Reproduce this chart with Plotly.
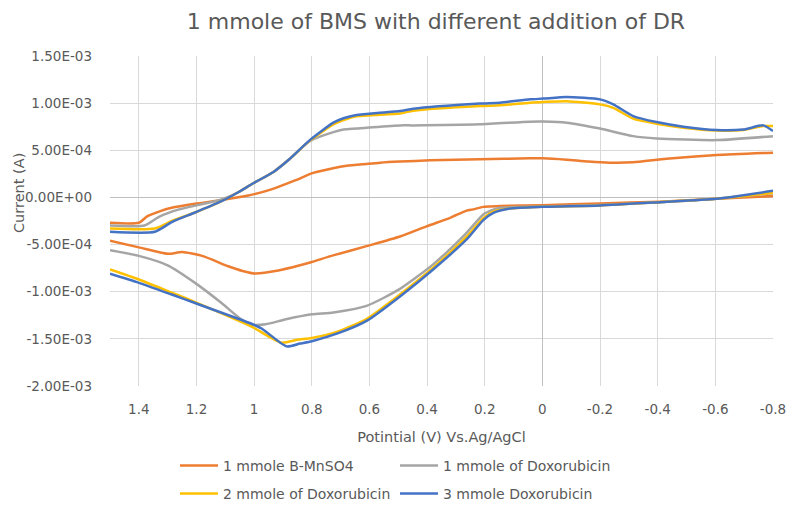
import plotly.graph_objects as go

# ---------------- data (potential in V, current in A) ----------------
series_names = ["1 mmole B-MnSO4", "1 mmole of Doxorubicin",
                "2 mmole of Doxorubicin", "3 mmole Doxorubicin"]
series_colors = ["#ED7D31", "#A5A5A5", "#FFC000", "#4472C4"]

# 1 mmole B-MnSO4
orange_up_v = [1.5, 1.40, 1.37, 1.33, 1.286, 1.205, 1.113, 1.02, 0.94, 0.858, 0.795, 0.726, 0.679,
               0.61, 0.563, 0.494, 0.39, 0.217, 0.043, -0.003, -0.084, -0.16, -0.234, -0.314,
               -0.43, -0.604, -0.8]
orange_up_i = [-2.69e-4, -2.69e-4, -1.98e-4, -1.50e-4, -1.10e-4, -6.7e-5, -2.8e-5, 2.0e-5, 8.5e-5,
               1.8e-4, 2.6e-4, 3.1e-4, 3.35e-4, 3.55e-4, 3.68e-4, 3.8e-4, 3.93e-4, 4.05e-4,
               4.15e-4, 4.15e-4, 4.0e-4, 3.8e-4, 3.68e-4, 3.72e-4, 4.1e-4, 4.5e-4, 4.75e-4]
orange_dn_v = [-0.8, -0.604, -0.408, -0.2, 0.0, 0.147, 0.18, 0.206, 0.24, 0.263, 0.32, 0.40, 0.494,
               0.61, 0.726, 0.80, 0.841, 0.916, 0.997, 1.04, 1.09, 1.18, 1.25, 1.30, 1.40, 1.5]
orange_dn_i = [1.4e-5, -1.4e-5, -4.5e-5, -6.4e-5, -8.2e-5, -9.0e-5, -9.5e-5, -1.0e-4, -1.27e-4,
               -1.4e-4, -2.16e-4, -3.05e-4, -4.15e-4, -5.17e-4, -6.15e-4, -6.85e-4, -7.2e-4,
               -7.75e-4, -8.07e-4, -7.8e-4, -7.3e-4, -6.2e-4, -5.8e-4, -5.98e-4, -5.3e-4, -4.6e-4]

# 1 mmole of Doxorubicin
gray_up_v = [1.5, 1.38, 1.33, 1.26, 1.17, 1.113, 1.055, 1.003, 0.933, 0.876, 0.806, 0.725, 0.69,
             0.645, 0.61, 0.494, 0.448, 0.217, 0.043, -0.003, -0.084, -0.2, -0.315, -0.396,
             -0.604, -0.8]
gray_up_i = [-2.97e-4, -2.97e-4, -2.05e-4, -1.27e-4, -6.4e-5, -2.1e-5, 5.5e-5, 1.5e-4, 2.7e-4,
             4.1e-4, 6.0e-4, 6.93e-4, 7.2e-4, 7.3e-4, 7.4e-4, 7.64e-4, 7.64e-4, 7.75e-4,
             8.03e-4, 8.04e-4, 7.93e-4, 7.3e-4, 6.5e-4, 6.26e-4, 6.08e-4, 6.5e-4]
gray_dn_v = [-0.8, -0.604, -0.408, -0.2, 0.0, 0.113, 0.147, 0.17, 0.205, 0.263, 0.379, 0.494, 0.61,
             0.725, 0.80, 0.893, 0.96, 1.009, 1.044, 1.113, 1.205, 1.30, 1.40, 1.5]
gray_dn_i = [4.5e-5, -1.4e-5, -5.0e-5, -8.0e-5, -9.5e-5, -1.05e-4, -1.1e-4, -1.3e-4, -1.8e-4,
             -3.75e-4, -7.1e-4, -9.7e-4, -1.15e-3, -1.22e-3, -1.24e-3, -1.295e-3, -1.345e-3,
             -1.35e-3, -1.295e-3, -1.12e-3, -9.06e-4, -7.2e-4, -6.2e-4, -5.6e-4]

# 2 mmole of Doxorubicin
yellow_up_v = [1.5, 1.345, 1.286, 1.205, 1.113, 1.055, 1.003, 0.933, 0.876, 0.806, 0.725, 0.69,
               0.645, 0.494, 0.448, 0.217, 0.147, 0.043, -0.003, -0.084, -0.2, -0.246, -0.315,
               -0.396, -0.489, -0.604, -0.697, -0.766, -0.8]
yellow_up_i = [-3.3e-4, -3.3e-4, -2.5e-4, -1.6e-4, -4.0e-5, 5.5e-5, 1.5e-4, 2.7e-4, 4.1e-4,
               6.05e-4, 7.75e-4, 8.2e-4, 8.6e-4, 8.9e-4, 9.2e-4, 9.7e-4, 9.77e-4, 1.005e-3,
               1.012e-3, 1.02e-3, 9.87e-4, 9.5e-4, 8.35e-4, 7.82e-4, 7.4e-4, 7.1e-4, 7.15e-4,
               7.57e-4, 7.57e-4]
yellow_dn_v = [-0.8, -0.604, -0.408, -0.2, 0.0, 0.113, 0.17, 0.205, 0.263, 0.379, 0.494, 0.61,
               0.708, 0.80, 0.85, 0.905, 1.009, 1.205, 1.286, 1.40, 1.5]
yellow_dn_i = [5.0e-5, -1.4e-5, -5.0e-5, -8.5e-5, -9.9e-5, -1.17e-4, -1.5e-4, -2.2e-4, -4.17e-4,
               -7.46e-4, -1.03e-3, -1.29e-3, -1.42e-3, -1.49e-3, -1.51e-3, -1.54e-3, -1.37e-3,
               -1.11e-3, -1.01e-3, -8.7e-4, -7.64e-4]

# 3 mmole Doxorubicin
blue_up_v = [1.5, 1.344, 1.286, 1.205, 1.113, 1.055, 1.003, 0.933, 0.876, 0.806, 0.725, 0.69,
             0.645, 0.61, 0.494, 0.448, 0.217, 0.147, 0.043, -0.003, -0.084, -0.2, -0.246,
             -0.315, -0.396, -0.489, -0.604, -0.697, -0.766, -0.8]
blue_up_i = [-3.64e-4, -3.64e-4, -2.62e-4, -1.6e-4, -4.0e-5, 5.5e-5, 1.5e-4, 2.7e-4, 4.1e-4,
             6.1e-4, 7.93e-4, 8.4e-4, 8.75e-4, 8.85e-4, 9.16e-4, 9.4e-4, 9.95e-4, 1.005e-3,
             1.04e-3, 1.048e-3, 1.065e-3, 1.04e-3, 9.87e-4, 8.63e-4, 7.99e-4, 7.5e-4, 7.14e-4,
             7.2e-4, 7.64e-4, 7.04e-4]
blue_dn_v = [-0.8, -0.604, -0.408, -0.2, 0.0, 0.113, 0.17, 0.205, 0.263, 0.379, 0.494, 0.61,
             0.708, 0.80, 0.841, 0.887, 0.974, 1.009, 1.205, 1.286, 1.40, 1.5]
blue_dn_i = [7.0e-5, -1.4e-5, -5.0e-5, -8.5e-5, -9.9e-5, -1.17e-4, -1.63e-4, -2.4e-4, -4.46e-4,
             -7.64e-4, -1.05e-3, -1.31e-3, -1.44e-3, -1.525e-3, -1.55e-3, -1.58e-3, -1.39e-3,
             -1.34e-3, -1.12e-3, -1.03e-3, -9.06e-4, -8.1e-4]

x_tick_vals = [1.4, 1.2, 1.0, 0.8, 0.6, 0.4, 0.2, 0.0, -0.2, -0.4, -0.6, -0.8]
x_tick_text = ["1.4", "1.2", "1", "0.8", "0.6", "0.4", "0.2", "0", "-0.2", "-0.4", "-0.6", "-0.8"]
y_tick_vals = [1.5e-3, 1.0e-3, 5.0e-4, 0.0, -5.0e-4, -1.0e-3, -1.5e-3, -2.0e-3]
y_tick_text = ["1.50E-03", "1.00E-03", "5.00E-04", "0.00E+00", "-5.00E-04", "-1.00E-03",
               "-1.50E-03", "-2.00E-03"]

title_text = "1 mmole of BMS with different addition of DR"
x_title = "Potintial (V) Vs.Ag/AgCl"
y_title = "Current (A)"

# ---------------- figure ----------------
FONT = "DejaVu Sans"
TXT = "#595959"
FS = 13.5      # tick labels
FS_LG = 14     # legend
FS_AX = 14.5   # axis titles

branches = [
    (orange_up_v, orange_up_i, orange_dn_v, orange_dn_i),
    (gray_up_v, gray_up_i, gray_dn_v, gray_dn_i),
    (yellow_up_v, yellow_up_i, yellow_dn_v, yellow_dn_i),
    (blue_up_v, blue_up_i, blue_dn_v, blue_dn_i),
]
legend_ids = ["legend", "legend", "legend2", "legend2"]

fig = go.Figure()
for name, color, (uv, ui, dv, di), lg in zip(series_names, series_colors, branches, legend_ids):
    fig.add_trace(go.Scatter(
        x=uv + [None] + dv,
        y=ui + [None] + di,
        mode="lines",
        name=name,
        line=dict(color=color, width=2.5, shape="spline", smoothing=0.6),
        connectgaps=False,
        legend=lg,
    ))

legend_common = dict(
    orientation="h", xanchor="left", yanchor="middle",
    xref="container", yref="container",
    font=dict(family=FONT, size=FS_LG, color=TXT),
    entrywidth=167, entrywidthmode="pixels",
    bgcolor="rgba(0,0,0,0)", itemwidth=38,
)

fig.update_layout(
    width=790, height=512,
    margin=dict(l=110, r=17, t=56, b=126, autoexpand=False),
    paper_bgcolor="white", plot_bgcolor="white",
    title=dict(text=title_text, x=0.4917, xref="paper", xanchor="center",
               y=1 - 21 / 512, yref="container", yanchor="middle",
               font=dict(family=FONT, size=22, color=TXT)),
    legend=dict(x=0.2215, y=1 - 466 / 512, **legend_common),
    legend2=dict(x=0.2215, y=1 - 494 / 512, **legend_common),
    xaxis=dict(
        range=[1.5, -0.8], tickvals=x_tick_vals, ticktext=x_tick_text,
        showgrid=True, gridcolor="#D9D9D9", gridwidth=1,
        zeroline=True, zerolinecolor="#BFBFBF", zerolinewidth=1,
        showline=False, ticks="", ticklabelstandoff=13, automargin=False,
        tickfont=dict(family=FONT, size=FS, color=TXT),
        title=dict(text=x_title, font=dict(family=FONT, size=FS_AX, color=TXT), standoff=16),
    ),
    yaxis=dict(
        range=[-2.0e-3, 1.5e-3], tickvals=y_tick_vals, ticktext=y_tick_text,
        showgrid=True, gridcolor="#D9D9D9", gridwidth=1,
        zeroline=True, zerolinecolor="#BFBFBF", zerolinewidth=1,
        showline=False, ticks="", ticklabelstandoff=17, automargin=False,
        tickfont=dict(family=FONT, size=FS, color=TXT),
    ),
    annotations=[dict(text=y_title, textangle=-90, xref="paper", yref="paper",
                      x=(19 - 110) / 663, y=(386 - 193) / 330, xanchor="center", yanchor="middle",
                      showarrow=False, font=dict(family=FONT, size=FS_AX, color=TXT))],
)

fig.write_html("out.html", config={"displayModeBar": False},
               post_script="document.body.style.margin='0';")
